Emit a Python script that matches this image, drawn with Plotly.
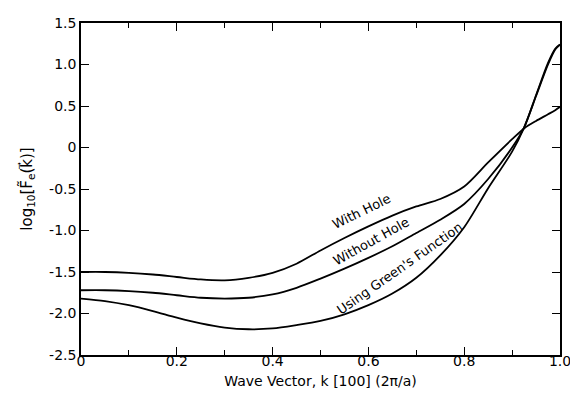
import plotly.graph_objects as go

k = [0.0, 0.05, 0.1, 0.15, 0.2, 0.25, 0.3, 0.35, 0.4, 0.45, 0.5, 0.55, 0.6, 0.65,
     0.7, 0.75, 0.8, 0.85, 0.9, 0.925, 0.95, 0.975, 0.99, 1.0]

with_hole = [-1.50, -1.50, -1.51, -1.53, -1.56, -1.59, -1.60, -1.57, -1.51, -1.40,
             -1.24, -1.09, -0.95, -0.82, -0.71, -0.62, -0.47, -0.18, 0.10, 0.23,
             0.32, 0.40, 0.45, 0.49]

without_hole = [-1.72, -1.72, -1.73, -1.75, -1.78, -1.81, -1.82, -1.81, -1.77, -1.69,
                -1.58, -1.46, -1.33, -1.19, -1.03, -0.87, -0.68, -0.38, 0.00, 0.24,
                0.63, 1.02, 1.19, 1.24]

greens = [-1.82, -1.85, -1.90, -1.97, -2.05, -2.12, -2.17, -2.19, -2.18, -2.14,
          -2.09, -2.01, -1.90, -1.76, -1.57, -1.30, -0.96, -0.49, -0.05, 0.24,
          0.62, 1.00, 1.18, 1.24]

x_tickvals = [0, 0.2, 0.4, 0.6, 0.8, 1.0]
x_ticktext = ["0", "0.2", "0.4", "0.6", "0.8", "1.0"]
y_tickvals = [1.5, 1.0, 0.5, 0, -0.5, -1.0, -1.5, -2.0, -2.5]
y_ticktext = ["1.5", "1.0", "0.5", "0", "-0.5", "-1.0", "-1.5", "-2.0", "-2.5"]

curve_labels = ["With Hole", "Without Hole", "Using Green's Function"]
label_x = [0.585, 0.605, 0.665]
label_y = [-0.77, -1.13, -1.46]
label_angle = [-26, -29, -35]

FONT = "DejaVu Sans, Verdana, sans-serif"

fig = go.Figure()
for ys in (with_hole, without_hole, greens):
    fig.add_trace(go.Scatter(x=k, y=ys, mode="lines",
                             line=dict(color="black", width=1.8, shape="spline", smoothing=0.8),
                             showlegend=False, hoverinfo="skip"))

for t, lx, ly, ang in zip(curve_labels, label_x, label_y, label_angle):
    fig.add_annotation(x=lx, y=ly, text=t, showarrow=False, textangle=ang,
                       font=dict(family=FONT, size=13, color="black"))

# page body has an 8px margin, so the figure is sized/offset to compensate
fig.update_layout(
    width=570, height=388,
    margin=dict(l=73, r=11, t=7, b=41),
    paper_bgcolor="white", plot_bgcolor="white",
    font=dict(family=FONT, size=14, color="black"),
)
fig.update_xaxes(
    range=[0, 1], tickvals=x_tickvals, ticktext=x_ticktext,
    showgrid=False, zeroline=False, showline=True, linecolor="black", linewidth=1.5,
    mirror="ticks", ticks="inside", ticklen=8, tickwidth=1.2, tickcolor="black",
    minor=dict(dtick=0.1, ticks="inside", ticklen=5, tickwidth=1.2, tickcolor="black", showgrid=False),
    tickfont=dict(size=14), ticklabelstandoff=-8, ticklabeloverflow="allow",
    title=dict(text="Wave Vector, k [100] (2π/a)", font=dict(size=14), standoff=9),
)
fig.update_yaxes(
    range=[-2.5, 1.5], tickvals=y_tickvals, ticktext=y_ticktext,
    showgrid=False, zeroline=False, showline=True, linecolor="black", linewidth=1.5,
    mirror="ticks", ticks="inside", ticklen=8, tickwidth=1.2, tickcolor="black",
    tickfont=dict(size=14), ticklabeloverflow="allow",
    title=dict(text="log<sub>10</sub>[F\u0303<sub>e</sub>(k\u20d7)]",
               font=dict(size=15), standoff=13),
)

fig.write_html("out.html")
